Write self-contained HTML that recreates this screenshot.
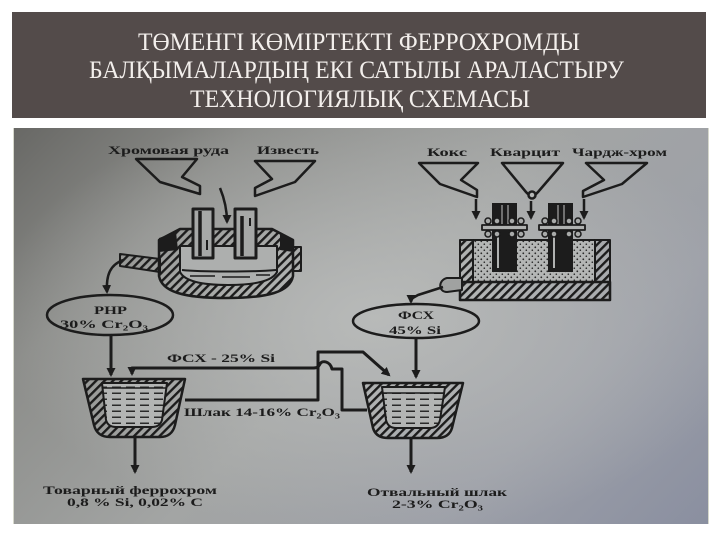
<!DOCTYPE html>
<html><head><meta charset="utf-8">
<style>
html,body{margin:0;padding:0;width:720px;height:540px;background:#fff;overflow:hidden}
.title{position:absolute;left:12px;top:12px;width:694px;height:106px;background:#534b4a}
.photo{position:absolute;left:13px;top:128px;width:694px;height:396px;
background:
radial-gradient(ellipse 55% 55% at 52% 48%, rgba(186,188,187,0.9), rgba(186,188,187,0) 100%),
linear-gradient(135deg,#686865 0%,#8c8d8a 22%,#a3a5a4 50%,#9da0a8 75%,#8a8fa0 100%);
border-left:1px solid #d6d8cc;border-right:1px solid #d6d8cc}
svg{position:absolute;left:0;top:0}
.tt{font-family:"Liberation Serif","DejaVu Serif",serif;font-size:25px;fill:#f3efec}
.dt{font-family:"Liberation Serif","DejaVu Serif",serif;font-weight:bold;font-size:12px;fill:#1a1a1a}
</style></head>
<body>
<div class="title"></div>
<div class="photo"></div>
<svg width="720" height="540" viewBox="0 0 720 540" xmlns="http://www.w3.org/2000/svg">
<defs>
<pattern id="h" width="6" height="6" patternUnits="userSpaceOnUse" patternTransform="rotate(45)">
<rect width="2.4" height="6" fill="#1e1e1e"/>
</pattern>
<pattern id="d" width="6" height="6" patternUnits="userSpaceOnUse">
<rect width="6" height="6" fill="#b4b6b5"/>
<circle cx="1.3" cy="1.3" r="0.9" fill="#2a2a2a"/>
<circle cx="4.3" cy="4.2" r="0.8" fill="#2a2a2a"/>
</pattern>
<pattern id="l" width="14" height="6" patternUnits="userSpaceOnUse">
<rect width="14" height="6" fill="#b3b5b4"/>
<rect x="0" y="2.5" width="9" height="1.5" fill="#2a2a2a"/>
</pattern>
<marker id="a" markerWidth="9" markerHeight="9" refX="7" refY="4.5" orient="auto" markerUnits="userSpaceOnUse">
<path d="M0,0 L9,4.5 L0,9 Z" fill="#1a1a1a"/>
</marker>
<filter id="b"><feGaussianBlur stdDeviation="0.3"/></filter>
</defs>

<text class="tt" x="138" y="50" textLength="442" lengthAdjust="spacingAndGlyphs">ТӨМЕНГІ КӨМІРТЕКТІ ФЕРРОХРОМДЫ</text>
<text class="tt" x="89" y="78" textLength="535" lengthAdjust="spacingAndGlyphs">БАЛҚЫМАЛАРДЫҢ ЕКІ САТЫЛЫ АРАЛАСТЫРУ</text>
<text class="tt" x="190" y="107" textLength="340" lengthAdjust="spacingAndGlyphs">ТЕХНОЛОГИЯЛЫҚ СХЕМАСЫ</text>

<g filter="url(#b)" stroke="#1a1a1a" fill="none" stroke-width="2.5" stroke-linejoin="round">
<!-- left hoppers -->
<path d="M136,159 L197,159 L182,177 L200,186 L200,194 L160,182 Z"/>
<path d="M255,161 L315,161 L295,182 L255,196 L255,188 L272,179 Z"/>
<path d="M220,188 Q227,205 227,222" marker-end="url(#a)"/>

<!-- left furnace -->
<path d="M159,240 L180,229 L272,229 L293,240 L293,276 C290,292 268,298 226,298 C184,298 162,292 159,276 Z" fill="url(#h)"/>
<path d="M180,246 L277,246 L277,272 C272,282 252,285 228,285 C204,285 185,282 180,272 Z" fill="#adafae" stroke-width="2"/>
<path d="M182,270 C200,272 255,272 276,270" stroke-width="2"/>
<path d="M190,276 L215,276 M222,277 L250,277 M256,275 L270,275" stroke-width="1.5"/>
<path d="M159,238 L176,232 L178,250 L159,252 Z" fill="#1e1e1e" stroke="none"/>
<path d="M280,232 L293,240 L293,252 L280,250 Z" fill="#1e1e1e" stroke="none"/>
<rect x="293" y="247" width="8" height="24" fill="url(#h)" stroke-width="2"/>
<path d="M120,254 L160,259 L160,272 L120,266 Z" fill="url(#h)" stroke-width="2"/>
<rect x="193" y="209" width="20" height="49" fill="#a6a8a7" stroke-width="3"/>
<path d="M200,211 L200,256" stroke-width="3.5"/>
<path d="M207,240 L207,250" stroke-width="2"/>
<rect x="235" y="209" width="21" height="49" fill="#a6a8a7" stroke-width="3"/>
<path d="M242,216 L242,256" stroke-width="3.5"/>
<path d="M250,218 L250,226" stroke-width="2"/>
<path d="M123,260 C110,265 106,275 107,292" marker-end="url(#a)"/>

<!-- left ellipse -->
<ellipse cx="110" cy="315" rx="63" ry="20"/>
<path d="M111,336 L111,375" stroke-width="3" marker-end="url(#a)"/>

<!-- right hoppers -->
<path d="M419,163 L478,163 L461,180 L477,190 L477,197 L440,184 Z"/>
<path d="M502,163 L563,163 L538,192 Q532,199 526,192 Z"/>
<circle cx="532" cy="195" r="3.5" fill="#b5b7b6"/>
<path d="M586,163 L647,163 L622,184 L583,197 L583,191 L604,180 Z"/>
<path d="M476,199 L476,218" marker-end="url(#a)"/>
<path d="M531,201 L531,218" marker-end="url(#a)"/>
<path d="M584,199 L584,218" marker-end="url(#a)"/>

<!-- right furnace -->
<rect x="473" y="240" width="122" height="42" fill="url(#d)" stroke-width="2"/>
<rect x="460" y="240" width="13" height="42" fill="url(#h)" stroke-width="2"/>
<rect x="595" y="240" width="15" height="42" fill="url(#h)" stroke-width="2"/>
<rect x="460" y="282" width="150" height="18" fill="url(#h)" stroke-width="2.5"/>
<path d="M462,278 L447,278 C438,280 438,292 447,292 L462,290 Z" fill="#a0a2a1" stroke-width="2"/>
<rect x="492" y="203" width="25" height="69" fill="#1e1e1e" stroke="none"/>
<path d="M498,230 L498,268" stroke="#b0b2b1" stroke-width="2"/>
<path d="M502,205 L502,224 M508,205 L508,224" stroke="#8a8c8b" stroke-width="1.5"/>
<rect x="482" y="225" width="45" height="5" fill="#b0b2b1" stroke-width="1.8"/>
<g fill="#a8aaa9" stroke-width="1.5">
<circle cx="488" cy="221" r="3"/><circle cx="497" cy="221" r="3"/><circle cx="512" cy="221" r="3"/><circle cx="521" cy="221" r="3"/>
<circle cx="488" cy="234" r="3"/><circle cx="497" cy="234" r="3"/><circle cx="512" cy="234" r="3"/><circle cx="521" cy="234" r="3"/>
</g>
<rect x="548" y="203" width="25" height="69" fill="#1e1e1e" stroke="none"/>
<path d="M554,230 L554,268" stroke="#b0b2b1" stroke-width="2"/>
<path d="M558,205 L558,224 M564,205 L564,224" stroke="#8a8c8b" stroke-width="1.5"/>
<rect x="539" y="225" width="46" height="5" fill="#b0b2b1" stroke-width="1.8"/>
<g fill="#a8aaa9" stroke-width="1.5">
<circle cx="545" cy="221" r="3"/><circle cx="554" cy="221" r="3"/><circle cx="569" cy="221" r="3"/><circle cx="578" cy="221" r="3"/>
<circle cx="545" cy="234" r="3"/><circle cx="554" cy="234" r="3"/><circle cx="569" cy="234" r="3"/><circle cx="578" cy="234" r="3"/>
</g>
<path d="M443,287 L418,295 L411,299 L411,302" marker-end="url(#a)"/>

<!-- right ellipse -->
<ellipse cx="416" cy="321" rx="63" ry="17"/>
<path d="M416,338 L416,377" stroke-width="3" marker-end="url(#a)"/>

<!-- ladle 1 -->
<path d="M83,379 L185,379 L175,425 Q172,437 160,437 L110,437 Q97,437 94,425 Z" fill="url(#h)" stroke-width="2.5"/>
<path d="M102,383 L167,383 L162,420 Q160,427 152,427 L116,427 Q108,427 106,420 Z" fill="url(#l)" stroke-width="2"/>
<path d="M102,388 L167,388" stroke-width="1.5"/>
<path d="M135,438 L135,472" stroke-width="3" marker-end="url(#a)"/>

<!-- ladle 2 -->
<path d="M363,383 L463,383 L452,428 Q449,438 437,438 L388,438 Q376,438 373,428 Z" fill="url(#h)" stroke-width="2.5"/>
<path d="M382,387 L445,387 L440,420 Q438,428 430,428 L396,428 Q388,428 386,420 Z" fill="url(#l)" stroke-width="2"/>
<path d="M382,393 L445,393" stroke-width="1.5"/>
<path d="M411,439 L411,472" stroke-width="3" marker-end="url(#a)"/>

<!-- connectors -->
<path d="M185,400 L318,400 L318,352 L363,352 L389,375" stroke-width="3" marker-end="url(#a)"/>
<path d="M367,410 L342,410 L342,369 L332,369 C330,361 322,360 320,364 C318,368 316,368 312,368 L132,368 L132,374" stroke-width="3" marker-end="url(#a)"/>
</g>

<g filter="url(#b)">
<text class="dt" x="108" y="154" textLength="121" lengthAdjust="spacingAndGlyphs">Хромовая руда</text>
<text class="dt" x="257" y="154" textLength="62" lengthAdjust="spacingAndGlyphs">Известь</text>
<text class="dt" x="427" y="156" textLength="40" lengthAdjust="spacingAndGlyphs">Кокс</text>
<text class="dt" x="490" y="156" textLength="70" lengthAdjust="spacingAndGlyphs">Кварцит</text>
<text class="dt" x="572" y="156" textLength="95" lengthAdjust="spacingAndGlyphs">Чардж-хром</text>
<text class="dt" x="94" y="314" textLength="33" lengthAdjust="spacingAndGlyphs">РНР</text>
<text class="dt" x="60" y="328" textLength="88" lengthAdjust="spacingAndGlyphs">30% Cr₂O₃</text>
<text class="dt" x="398" y="319" textLength="36" lengthAdjust="spacingAndGlyphs">ФСХ</text>
<text class="dt" x="389" y="334" textLength="52" lengthAdjust="spacingAndGlyphs">45% Si</text>
<text class="dt" x="167" y="362" textLength="108" lengthAdjust="spacingAndGlyphs">ФСХ - 25% Si</text>
<text class="dt" x="184" y="416" textLength="156" lengthAdjust="spacingAndGlyphs">Шлак 14-16% Cr₂O₃</text>
<text class="dt" x="43" y="494" textLength="174" lengthAdjust="spacingAndGlyphs">Товарный феррохром</text>
<text class="dt" x="67" y="506" textLength="136" lengthAdjust="spacingAndGlyphs">0,8 % Si, 0,02% C</text>
<text class="dt" x="367" y="496" textLength="140" lengthAdjust="spacingAndGlyphs">Отвальный шлак</text>
<text class="dt" x="392" y="508" textLength="91" lengthAdjust="spacingAndGlyphs">2-3% Cr₂O₃</text>
</g>
</svg>
</body></html>
